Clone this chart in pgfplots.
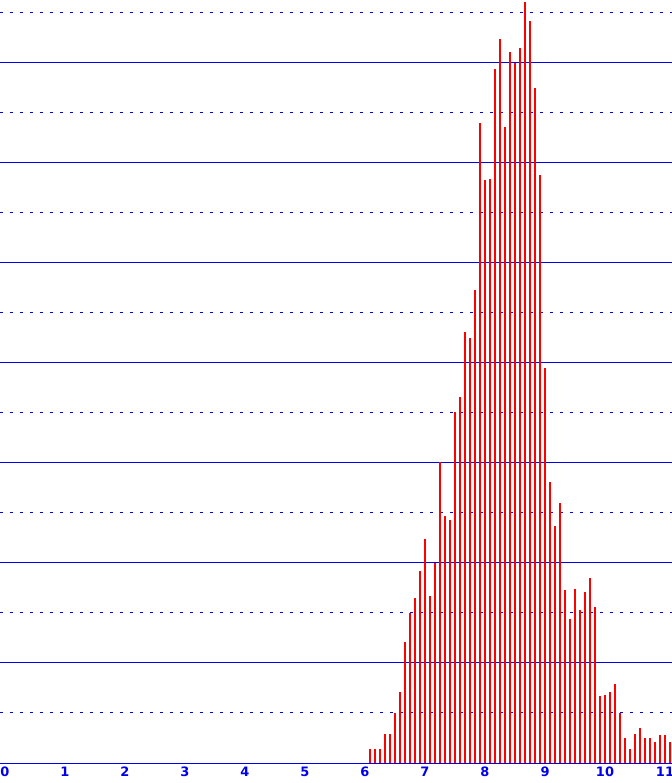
\documentclass[border=0pt]{standalone}
\usepackage{pgfplots}
\pgfplotsset{compat=1.18}
\usepackage{fontspec}
\setmainfont{DejaVu Sans}
\definecolor{lineblue}{RGB}{0,0,235}
\definecolor{barred}{RGB}{255,0,0}
\pgfplotstableread{
x y
6.0833 0.28
6.1667 0.28
6.25 0.28
6.3333 0.58
6.4167 0.58
6.5 1.00
6.5833 1.42
6.6667 2.42
6.75 3.00
6.8333 3.30
6.9167 3.84
7.0 4.48
7.0833 3.34
7.1667 4.00
7.25 6.02
7.3333 4.94
7.4167 4.86
7.5 7.02
7.5833 7.32
7.6667 8.62
7.75 8.50
7.8333 9.46
7.9167 12.80
8.0 11.66
8.0833 11.68
8.1667 13.88
8.25 14.48
8.3333 12.72
8.4167 14.22
8.5 14.00
8.5833 14.30
8.6667 15.22
8.75 14.84
8.8333 13.50
8.9167 11.76
9.0 7.90
9.0833 5.62
9.1667 4.74
9.25 5.20
9.3333 3.46
9.4167 2.88
9.5 3.48
9.5833 3.06
9.6667 3.42
9.75 3.70
9.8333 3.12
9.9167 1.34
10.0 1.36
10.0833 1.42
10.1667 1.58
10.25 1.00
10.3333 0.50
10.4167 0.28
10.5 0.58
10.5833 0.70
10.6667 0.50
10.75 0.50
10.8333 0.42
10.9167 0.56
11.0 0.56
11.0833 0.42
}\datatable
\begin{document}
\begin{tikzpicture}
\useasboundingbox (0,0) rectangle (672bp,783bp);
\begin{axis}[
  at={(0,20bp)}, anchor=south west,
  scale only axis,
  width=672bp, height=763bp,
  xmin=-0.0833, xmax=11.1167,
  ymin=0, ymax=15.26,
  axis x line*=bottom,
  axis y line*=left,
  x axis line style={-, lineblue, line width=1bp},
  y axis line style={draw=none},
  xtick={0,1,...,11},
  major tick length=0pt,
  minor tick length=0pt,
  tick style={draw=none},
  xticklabel style={text=lineblue, font=\fontsize{13}{15}\selectfont\bfseries, inner sep=0pt, yshift=-4bp, anchor=north},
  /pgf/number format/assume math mode=true,
  ytick={2,4,...,14},
  minor ytick={1,3,...,15},
  yticklabels={},
  ymajorgrids, yminorgrids,
  major grid style={lineblue, solid, line width=1bp},
  minor grid style={lineblue, line width=1bp, dash pattern=on 2.7bp off 7.3bp},
  clip=true,
]
\addplot[ycomb, barred, line width=2bp, no marks] table[x=x,y=y] {\datatable};
\end{axis}
\end{tikzpicture}
\end{document}
